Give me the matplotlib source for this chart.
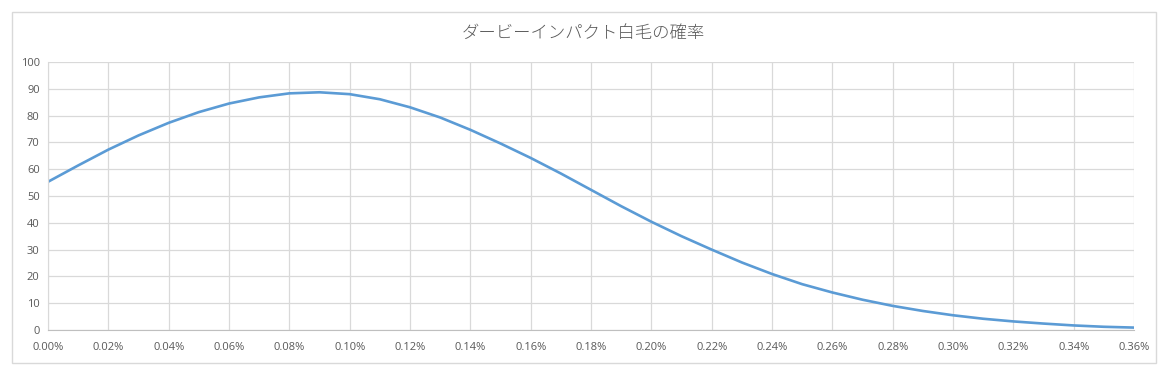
import matplotlib.pyplot as plt
from matplotlib.ticker import FuncFormatter, MultipleLocator
from matplotlib.patches import Rectangle

# probability values, every 0.01%
rate = [i * 0.0001 for i in range(37)]
prob = [55.3, 61.4, 67.3, 72.6, 77.3, 81.3, 84.5, 86.8, 88.3, 88.7,
        88.0, 86.1, 83.1, 79.3, 74.7, 69.6, 64.2, 58.4, 52.3, 46.2,
        40.4, 35.0, 30.0, 25.2, 20.9, 17.1, 14.0, 11.3, 9.0, 7.1,
        5.5, 4.2, 3.2, 2.4, 1.7, 1.2, 0.9]

title = 'ダービーインパクト白毛の確率'

plt.rcParams['font.family'] = ['Open Sans', 'Noto Sans CJK JP', 'DejaVu Sans']
grey = '#595959'
gridc = '#d9d9d9'

fig = plt.figure(figsize=(11.76, 3.81), dpi=100)
fig.patches.append(Rectangle((12/1176, 18/381), 1144/1176, 351/381,
                             transform=fig.transFigure, fill=False,
                             edgecolor=gridc, linewidth=1))

ax = fig.add_axes([48/1176, 51/381, 1086/1176, 268/381])
ax.plot(rate, prob, color='#5b9bd5', linewidth=1.9,
        solid_capstyle='round', solid_joinstyle='round')

ax.set_xlim(0, 0.0036)
ax.set_ylim(0, 100)
ax.xaxis.set_major_locator(MultipleLocator(0.0002))
ax.yaxis.set_major_locator(MultipleLocator(10))
ax.xaxis.set_major_formatter(FuncFormatter(lambda v, p: '{:.2%}'.format(v)))
ax.grid(True, color=gridc, linewidth=0.9)
ax.set_axisbelow(True)

for s in ['top', 'right']:
    ax.spines[s].set_visible(False)
ax.spines['left'].set_color(gridc)
ax.spines['bottom'].set_color('#bfbfbf')
ax.tick_params(length=0, labelsize=8, labelcolor=grey, pad=6)
ax.tick_params(axis='x', pad=9)

fig.text(583/1176, 1 - 33/381, title, ha='center', va='center',
         fontsize=12.5, color=grey, family=['Noto Sans CJK JP', 'DejaVu Sans'],
         fontweight='light')

fig.savefig('out.png', dpi=100)
